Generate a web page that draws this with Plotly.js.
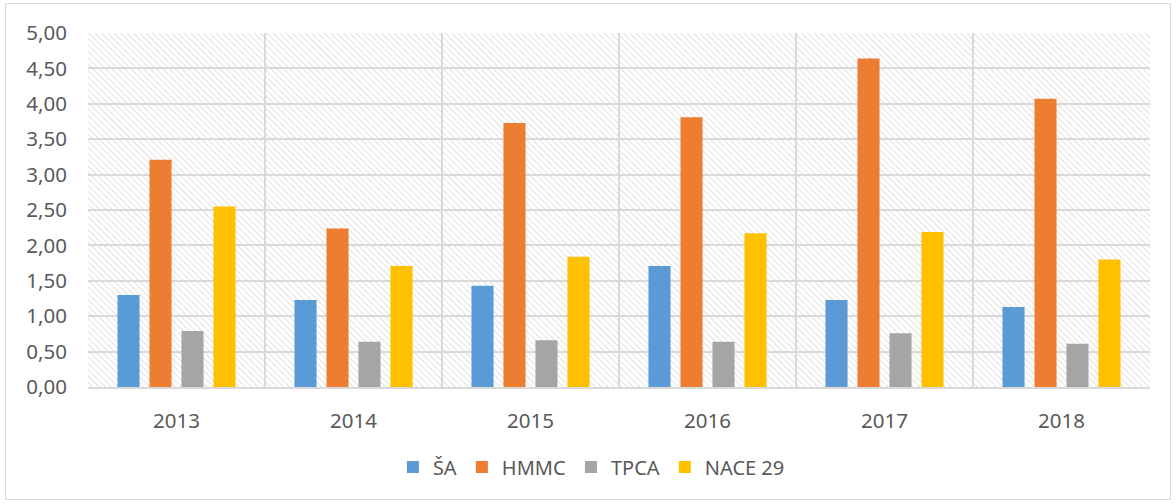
<!DOCTYPE html>
<html><head><meta charset="utf-8">
<script src="https://cdn.plot.ly/plotly-3.0.1.min.js"></script>
<style>
html,body{margin:0;padding:0;background:#fff;}
#wrap{position:relative;width:1176px;height:504px;}
#chart{width:1176px;height:504px;}
#frame{position:absolute;left:5px;top:3px;width:1166px;height:497px;border:1px solid #d9d9d9;pointer-events:none;box-sizing:border-box;}
</style></head>
<body>
<div id="wrap"><div id="chart"></div><div id="frame"></div></div>
<script>
const years = ['2013','2014','2015','2016','2017','2018'];
const seriesNames = ['ŠA','HMMC','TPCA','NACE 29'];
const sa   = [1.30, 1.23, 1.43, 1.71, 1.23, 1.13];
const hmmc = [3.21, 2.24, 3.73, 3.81, 4.64, 4.07];
const tpca = [0.79, 0.64, 0.66, 0.64, 0.76, 0.61];
const nace = [2.55, 1.71, 1.84, 2.17, 2.19, 1.80];
const colors = ['#5b9bd5','#ed7d31','#a5a5a5','#ffc000'];
const allValues = [sa, hmmc, tpca, nace];

const traces = allValues.map((v,i)=>({
  type:'bar', name: seriesNames[i], x: years, y: v,
  marker:{color: colors[i]}, hoverinfo:'x+y+name'
}));

const hatchSvg = '<svg xmlns="http://www.w3.org/2000/svg" width="1062" height="354">' +
 '<defs><pattern id="p" width="4.5" height="4.5" patternUnits="userSpaceOnUse" patternTransform="rotate(-45)">' +
 '<line x1="0" y1="0" x2="0" y2="4.5" stroke="#d6d6d6" stroke-width="1.4"/></pattern></defs>' +
 '<rect width="100%" height="100%" fill="#fff"/><rect width="100%" height="100%" fill="url(#p)"/></svg>';

const layout = {
  width:1176, height:504,
  margin:{l:88, r:26, t:33, b:117},
  paper_bgcolor:'#fff', plot_bgcolor:'rgba(0,0,0,0)',
  separators:', ',
  font:{family:'Noto Sans, sans-serif', size:20, color:'#595959'},
  barmode:'group', bargap:0.277, bargroupgap:0.31,
  xaxis:{type:'category', tickson:'boundaries', showgrid:true, gridcolor:'#d9d9d9', gridwidth:2,
         showline:true, linecolor:'#d9d9d9', linewidth:2, ticks:'', ticklabelstandoff:14,
         tickfont:{size:20.5, color:'#595959'}},
  yaxis:{range:[0,5], dtick:0.5, tickformat:'.2f', showgrid:true, gridcolor:'#d9d9d9', gridwidth:2,
         zeroline:false, showline:false, ticks:'', ticklabelstandoff:20,
         tickfont:{size:20.5, color:'#595959'}},
  legend:{orientation:'h', x:0.474, xanchor:'center', y:-0.226, yanchor:'middle',
          font:{size:20, color:'#595959'}, itemwidth:30, traceorder:'normal'},
  images:[{source:'data:image/svg+xml;charset=utf-8,'+encodeURIComponent(hatchSvg),
           xref:'paper', yref:'paper', x:0, y:1, sizex:1, sizey:1, sizing:'stretch',
           layer:'below', xanchor:'left', yanchor:'top'}],
  showlegend:true
};
Plotly.newPlot('chart', traces, layout, {displayModeBar:false, staticPlot:true});
</script>
</body></html>
